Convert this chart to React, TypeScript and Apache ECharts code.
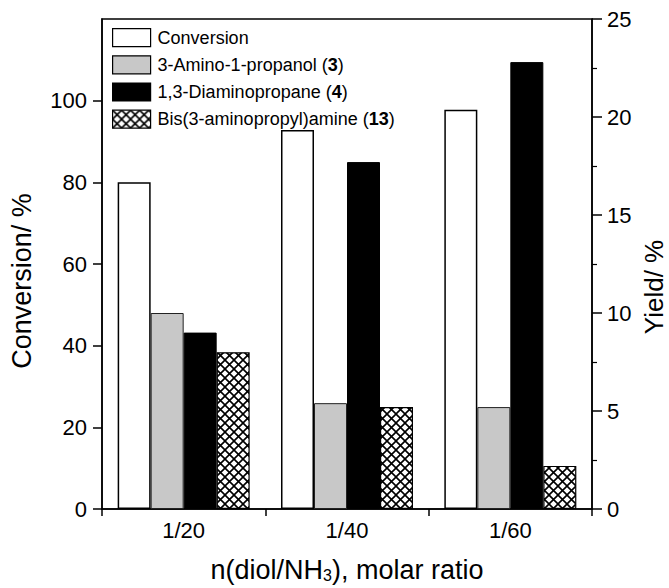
import React, { useEffect, useRef } from "react";
import * as echarts from "echarts";

const categories = ["1/20", "1/40", "1/60"];
const conversion = [80, 92.8, 97.8];
const aminopropanol = [10.0, 5.4, 5.2];
const diaminopropane = [9.0, 17.7, 22.8];
const bisamine = [8.0, 5.2, 2.2];
const leftTicks = [0, 20, 40, 60, 80, 100];
const rightTicks = [0, 5, 10, 15, 20, 25];

const FONT = '"Liberation Sans", Arial, Helvetica, sans-serif';

function makeHatch() {
  const c = document.createElement("canvas");
  const s = 9;
  c.width = s;
  c.height = s;
  const ctx = c.getContext("2d")!;
  ctx.fillStyle = "#fff";
  ctx.fillRect(0, 0, s, s);
  ctx.strokeStyle = "#000";
  ctx.lineWidth = 1.6;
  ctx.beginPath();
  ctx.moveTo(-1, -1);
  ctx.lineTo(s + 1, s + 1);
  ctx.moveTo(s + 1, -1);
  ctx.lineTo(-1, s + 1);
  ctx.stroke();
  return { image: c, repeat: "repeat", imageWidth: s, imageHeight: s } as any;
}

export default function App() {
  const ref = useRef<HTMLDivElement>(null);
  useEffect(() => {
    if (!ref.current) return;
    const chart = echarts.init(ref.current, null, { renderer: "svg" });
    const hatch = makeHatch();
    const legendNames: Record<string, string> = {
      "Conversion": "Conversion",
      "3-Amino-1-propanol (3)": "3-Amino-1-propanol ({b|3})",
      "1,3-Diaminopropane (4)": "1,3-Diaminopropane ({b|4})",
      "Bis(3-aminopropyl)amine (13)": "Bis(3-aminopropyl)amine ({b|13})",
    };
    chart.setOption({
      animation: false,
      backgroundColor: "#fff",
      textStyle: { fontFamily: FONT, color: "#000" },
      grid: {
        left: 102,
        right: 77,
        top: 19,
        bottom: 78,
        show: true,
        borderColor: "#000",
        borderWidth: 1.5,
        backgroundColor: "transparent",
      },
      legend: {
        orient: "vertical",
        left: 112,
        top: 28,
        padding: 0,
        itemWidth: 38,
        itemHeight: 18,
        itemGap: 8,
        icon: "rect",
        selectedMode: false,
        itemStyle: { borderWidth: 1.2, borderColor: "#000" },
        formatter: (name: string) => legendNames[name] || name,
        textStyle: {
          fontFamily: FONT,
          fontSize: 18,
          lineHeight: 18,
          color: "#000",
          padding: [0, 0, 0, 2],
          rich: {
            b: { fontFamily: FONT, fontSize: 18, fontWeight: "bold", color: "#000" },
          },
        },
        data: [
          "Conversion",
          "3-Amino-1-propanol (3)",
          "1,3-Diaminopropane (4)",
          "Bis(3-aminopropyl)amine (13)",
        ],
      },
      xAxis: {
        type: "category",
        data: categories,
        boundaryGap: true,
        axisLine: { show: true, lineStyle: { color: "#000", width: 1.5 } },
        axisTick: { show: true, interval: 0, length: 7, lineStyle: { color: "#000", width: 1.5 } },
        axisLabel: { fontFamily: FONT, fontSize: 22, color: "#000", margin: 10 },
        name: "n(diol/NH{sub|3}), molar ratio",
        nameLocation: "middle",
        nameGap: 47,
        nameTextStyle: {
          fontFamily: FONT,
          fontSize: 27,
          color: "#000",
          rich: {
            sub: {
              fontFamily: FONT,
              fontSize: 16,
              lineHeight: 16,
              color: "#000",
              verticalAlign: "bottom",
              padding: [13, 0, 0, 0],
            },
          },
        },
      },
      yAxis: [
        {
          type: "value",
          position: "left",
          min: 0,
          max: 120,
          interval: 20,
          splitLine: { show: false },
          axisLine: { show: true, lineStyle: { color: "#000", width: 1.5 } },
          axisTick: {
            show: true,
            length: 9,
            customValues: leftTicks,
            lineStyle: { color: "#000", width: 1.5 },
          },
          axisLabel: {
            fontFamily: FONT,
            fontSize: 22,
            color: "#000",
            margin: 15,
            customValues: leftTicks,
            formatter: (v: number) => (v > 100 ? "" : String(v)),
          },
        },
        {
          type: "value",
          position: "right",
          min: 0,
          max: 25,
          interval: 5,
          splitLine: { show: false },
          axisLine: { show: true, lineStyle: { color: "#000", width: 1.5 } },
          axisTick: {
            show: true,
            length: 10,
            lineStyle: { color: "#000", width: 1.5 },
          },
          minorTick: {
            show: true,
            splitNumber: 2,
            length: 5,
            lineStyle: { color: "#000", width: 1.2 },
          },
          minorSplitLine: { show: false },
          axisLabel: {
            fontFamily: FONT,
            fontSize: 22,
            color: "#000",
            margin: 15,
            customValues: rightTicks,
          },
        },
      ],
      series: [
        {
          name: "Conversion",
          type: "bar",
          yAxisIndex: 0,
          data: conversion,
          barWidth: 33,
          barGap: "0%",
          itemStyle: { color: "#fff", borderColor: "#000", borderWidth: 1.5 },
        },
        {
          name: "3-Amino-1-propanol (3)",
          type: "bar",
          yAxisIndex: 1,
          data: aminopropanol,
          barWidth: 33,
          barGap: "0%",
          itemStyle: { color: "#c8c8c8", borderColor: "#222", borderWidth: 1 },
        },
        {
          name: "1,3-Diaminopropane (4)",
          type: "bar",
          yAxisIndex: 1,
          data: diaminopropane,
          barWidth: 33,
          barGap: "0%",
          itemStyle: { color: "#000", borderColor: "#000", borderWidth: 1 },
        },
        {
          name: "Bis(3-aminopropyl)amine (13)",
          type: "bar",
          yAxisIndex: 1,
          data: bisamine,
          barWidth: 33,
          barGap: "0%",
          itemStyle: { color: hatch, borderColor: "#000", borderWidth: 1.2 },
        },
      ],
      graphic: [
        {
          type: "text",
          x: 22,
          y: 281,
          rotation: Math.PI / 2,
          style: {
            text: "Conversion/ %",
            fontFamily: FONT,
            fontSize: 27,
            fill: "#000",
            align: "center",
            verticalAlign: "middle",
            textAlign: "center",
            textVerticalAlign: "middle",
          },
        },
        {
          type: "text",
          x: 654,
          y: 287,
          rotation: Math.PI / 2,
          style: {
            text: "Yield/ %",
            fontFamily: FONT,
            fontSize: 26,
            fill: "#000",
            align: "center",
            verticalAlign: "middle",
            textAlign: "center",
            textVerticalAlign: "middle",
          },
        },
      ],
    });
    return () => chart.dispose();
  }, []);
  return (
    <div
      ref={ref}
      style={{ position: "fixed", left: 0, top: 0, width: 669, height: 588, background: "#fff" }}
    />
  );
}
